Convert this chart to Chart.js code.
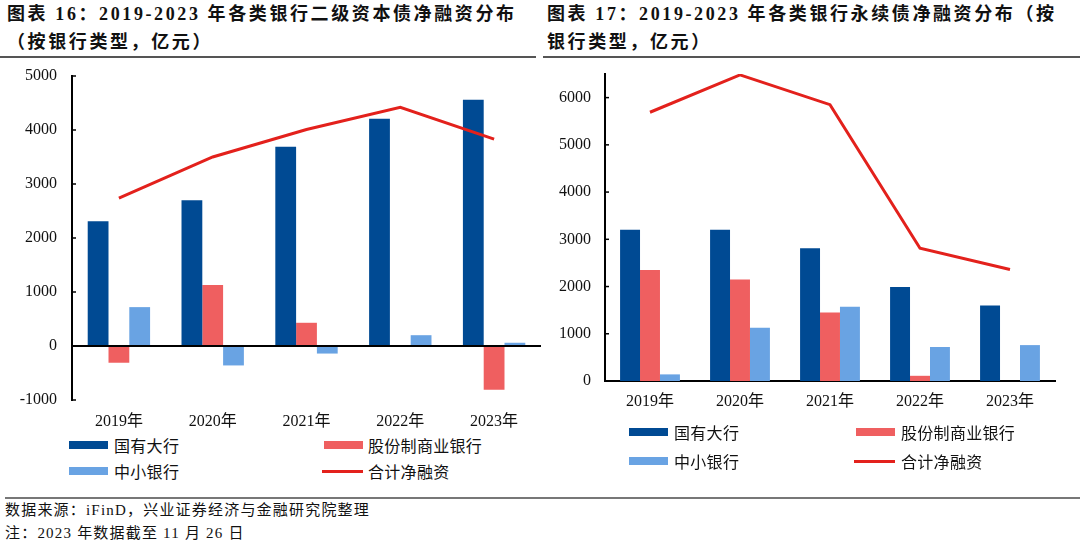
<!DOCTYPE html>
<html>
<head>
  <meta charset="UTF-8">
  <title>各类银行二级资本债与永续债净融资分布</title>
  <script src="https://cdn.jsdelivr.net/npm/chart.js"></script>
  <style>
    body {
      margin: 0;
      width: 1080px;
      height: 549px;
      background: #fff;
      position: relative;
      overflow: hidden;
      font-family: "Liberation Serif", "Noto Sans CJK SC", serif;
      color: #111;
    }
    .title {
      position: absolute;
      top: 1px;
      font-size: 18px;
      font-weight: 700;
      line-height: 27.5px;
      letter-spacing: 2.6px;
      white-space: nowrap;
    }
    .rule {
      position: absolute;
      height: 2px;
      background: #555;
    }
    .box {
      position: absolute;
      top: 60px;
    }
    .legend-item {
      position: absolute;
      font-size: 16px;
      letter-spacing: 0.3px;
      line-height: 20px;
      white-space: nowrap;
      font-family: "Noto Sans CJK SC", sans-serif;
    }
    .swatch {
      position: absolute;
      left: 0;
    }
    .footer {
      position: absolute;
      left: 5px;
      top: 499px;
      font-size: 15px;
      line-height: 22.7px;
      letter-spacing: 1.2px;
      white-space: nowrap;
    }
  </style>
</head>
<body>
  <div class="title" style="left:7px">图表 16：2019-2023 年各类银行二级资本债净融资分布<br>（按银行类型，亿元）</div>
  <div class="title" style="left:547px">图表 17：2019-2023 年各类银行永续债净融资分布（按<br>银行类型，亿元）</div>
  <div class="rule" style="left:0; width:536px; top:56px"></div>
  <div class="rule" style="left:543px; width:537px; top:56px"></div>

  <div class="box" style="left:0"><canvas id="chart16" width="560" height="370"></canvas></div>
  <div class="box" style="left:540px"><canvas id="chart17" width="540" height="370"></canvas></div>

  <div id="legend16"></div>
  <div id="legend17"></div>

  <div class="rule" style="left:5px; width:1075px; top:497px; height:1.5px; background:#777"></div>
  <div class="footer">数据来源：iFinD，兴业证券经济与金融研究院整理<br>注：2023 年数据截至 11 月 26 日</div>

  <script>
    // categories and series (亿元)
    const years = ['2019年', '2020年', '2021年', '2022年', '2023年'];
    const seriesNames = ['国有大行', '股份制商业银行', '中小银行', '合计净融资'];

    // 图表16 二级资本债
    const t2Big = [2310, 2700, 3690, 4210, 4560];
    const t2Joint = [-310, 1130, 430, 0, -810];
    const t2Small = [720, -360, -140, 200, 60];
    const t2Total = [2740, 3500, 4010, 4420, 3830];
    const t2Ticks = [-1000, 0, 1000, 2000, 3000, 4000, 5000];

    // 图表17 永续债
    const perpBig = [3200, 3200, 2810, 1990, 1600];
    const perpJoint = [2350, 2150, 1450, 110, 0];
    const perpSmall = [140, 1130, 1570, 720, 760];
    const perpTotal = [5690, 6480, 5850, 2810, 2360];
    const perpTicks = [0, 1000, 2000, 3000, 4000, 5000, 6000];

    const colors = ['#004A93', '#EF5F60', '#69A3E3', '#E3211C'];
    const tickFont = { family: '"Liberation Serif", "Noto Sans CJK SC", serif', size: 16 };

    // zero line + small inward tick marks on the value axis
    const axisExtras = {
      id: 'axisExtras',
      afterDatasetsDraw(chart, args, opts) {
        const { ctx, chartArea, scales } = chart;
        const y = scales.y;
        ctx.save();
        ctx.strokeStyle = '#000';
        ctx.lineWidth = 2;
        if (opts.zeroLine) {
          const zy = y.getPixelForValue(0);
          ctx.beginPath();
          ctx.moveTo(chartArea.left, zy);
          ctx.lineTo(chartArea.right, zy);
          ctx.stroke();
        }
        ctx.lineWidth = 1.5;
        y.ticks.forEach(t => {
          if (t.value === 0) return;
          const py = y.getPixelForValue(t.value);
          ctx.beginPath();
          ctx.moveTo(chartArea.left, py);
          ctx.lineTo(chartArea.left + 4, py);
          ctx.stroke();
        });
        ctx.restore();
      }
    };

    function makeChart(id, vals, total, ticks, opt) {
      const datasets = vals.map((v, i) => ({
        type: 'bar',
        label: seriesNames[i],
        data: v,
        backgroundColor: colors[i],
        borderWidth: 0,
        categoryPercentage: 0.665,
        barPercentage: 1,
        order: 1
      }));
      datasets.push({
        type: 'line',
        label: seriesNames[3],
        data: total,
        borderColor: colors[3],
        borderWidth: 3,
        pointRadius: 0,
        tension: 0,
        order: 0
      });

      return new Chart(document.getElementById(id), {
        type: 'bar',
        data: { labels: years, datasets: datasets },
        options: {
          responsive: false,
          animation: false,
          layout: { padding: opt.padding },
          plugins: {
            legend: { display: false },
            tooltip: { enabled: false },
            axisExtras: { zeroLine: opt.zeroLine }
          },
          scales: {
            x: {
              grid: { display: false, drawTicks: false },
              border: { display: !opt.zeroLine, color: '#000', width: 2 },
              ticks: { font: tickFont, color: '#111', padding: opt.xPad, maxRotation: 0 },
              afterFit: s => { s.height = opt.xHeight; }
            },
            y: {
              min: opt.min,
              max: opt.max,
              grid: { display: false, drawTicks: false },
              border: { display: true, color: '#000', width: 2 },
              ticks: {
                font: tickFont, color: '#111', padding: opt.yPad, stepSize: 1000,
                callback: v => String(v)
              },
              afterBuildTicks: s => { s.ticks = ticks.map(v => ({ value: v })); },
              afterFit: s => {
                s.width = opt.yWidth;
                // let layout.padding decide the plot top, not the label padding
                s.paddingTop = 0;
                s.paddingBottom = 0;
              }
            }
          }
        },
        plugins: [axisExtras]
      });
    }

    makeChart('chart16', [t2Big, t2Joint, t2Small], t2Total, t2Ticks, {
      padding: { top: 16, right: 19, left: 0, bottom: 0 },
      min: -1000, max: 5000, zeroLine: true,
      xPad: 12, xHeight: 30, yPad: 15, yWidth: 72
    });

    makeChart('chart17', [perpBig, perpJoint, perpSmall], perpTotal, perpTicks, {
      padding: { top: 14, right: 25, left: 0, bottom: 0 },
      min: 0, max: 6500, zeroLine: false,
      xPad: 11, xHeight: 49, yPad: 14, yWidth: 65
    });

    // HTML legends, 2 x 2 grid like the original
    function buildLegend(elId, pos) {
      const el = document.getElementById(elId);
      seriesNames.forEach((name, i) => {
        const p = pos[i];
        const item = document.createElement('div');
        item.className = 'legend-item';
        item.style.left = p.x + 'px';
        item.style.top = (p.y - 10) + 'px';
        item.style.paddingLeft = p.gap + 'px';
        const sw = document.createElement('span');
        sw.className = 'swatch';
        const h = i === 3 ? 3 : 8;
        sw.style.width = (i === 3 ? 41 : 39) + 'px';
        sw.style.height = h + 'px';
        sw.style.top = (10 - h / 2) + 'px';
        sw.style.background = colors[i];
        item.appendChild(sw);
        item.appendChild(document.createTextNode(name));
        el.appendChild(item);
      });
    }

    buildLegend('legend16', [
      { x: 69, y: 445, gap: 45 },
      { x: 324, y: 445, gap: 44 },
      { x: 69, y: 471, gap: 45 },
      { x: 322, y: 471, gap: 46 }
    ]);
    buildLegend('legend17', [
      { x: 629, y: 432, gap: 45 },
      { x: 856, y: 432, gap: 45 },
      { x: 629, y: 461, gap: 45 },
      { x: 854, y: 461, gap: 47 }
    ]);
  </script>
</body>
</html>
